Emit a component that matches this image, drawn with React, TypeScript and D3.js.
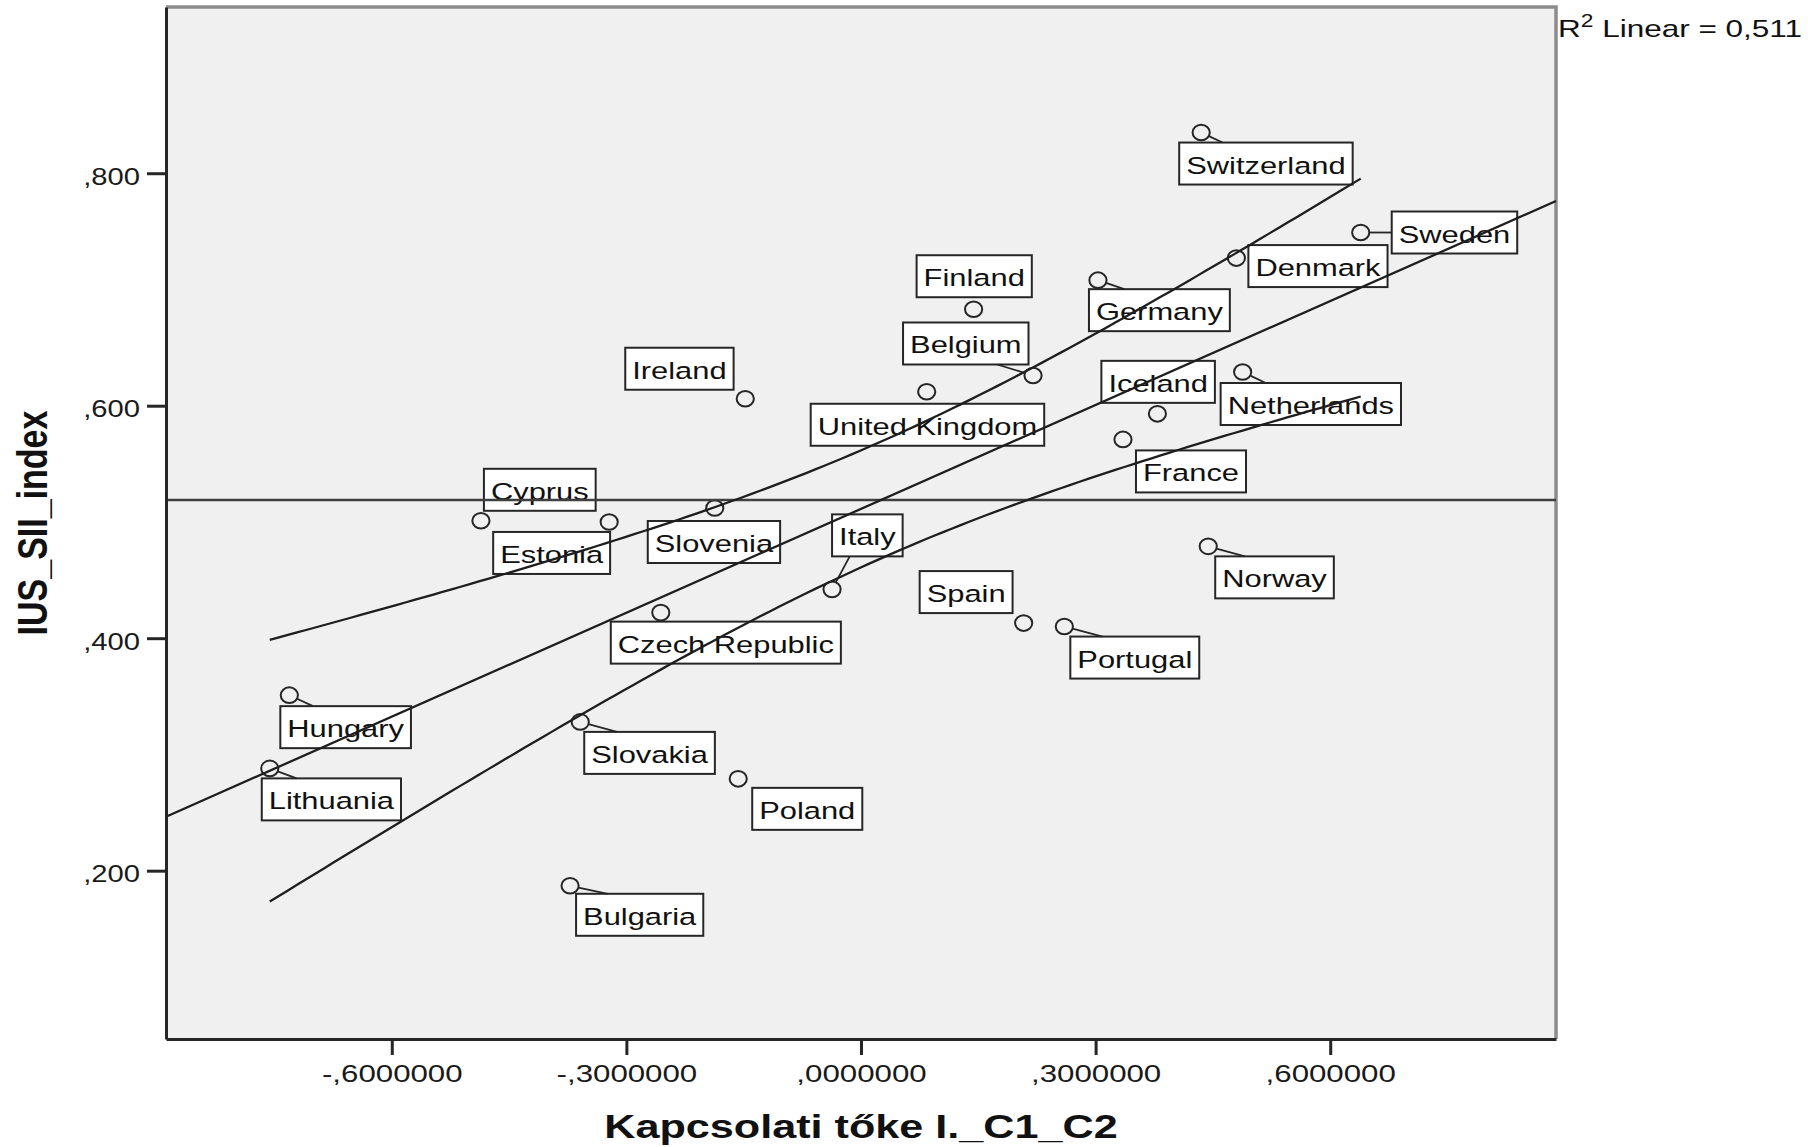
import { useEffect, useRef } from 'react'
import * as d3 from 'd3'

// Countries, in the order they are listed below
const COUNTRIES = [
  'Switzerland', 'Sweden', 'Denmark', 'Germany', 'Finland', 'Belgium',
  'Netherlands', 'Iceland', 'United Kingdom', 'Ireland', 'France', 'Slovenia',
  'Cyprus', 'Estonia', 'Italy', 'Czech Republic', 'Spain', 'Portugal',
  'Norway', 'Hungary', 'Lithuania', 'Slovakia', 'Poland', 'Bulgaria',
]

// Kapcsolati tőke I._C1_C2 (x)
const KAPCSOLATI = [
  0.435, 0.639, 0.480, 0.303, 0.144, 0.220,
  0.488, 0.379, 0.084, -0.148, 0.335, -0.187,
  -0.486, -0.322, -0.037, -0.256, 0.208, 0.260,
  0.444, -0.731, -0.756, -0.359, -0.157, -0.372,
]

// IUS_SII_index (y)
const IUS_SII = [
  0.835, 0.749, 0.727, 0.708, 0.683, 0.626,
  0.629, 0.593, 0.612, 0.606, 0.571, 0.512,
  0.501, 0.500, 0.442, 0.422, 0.413, 0.410,
  0.479, 0.351, 0.288, 0.328, 0.279, 0.187,
]

const X_TICKS = [-0.6, -0.3, 0, 0.3, 0.6]
const X_TICK_LABELS = ['-,6000000', '-,3000000', ',0000000', ',3000000', ',6000000']
const Y_TICKS = [0.2, 0.4, 0.6, 0.8]
const Y_TICK_LABELS = [',200', ',400', ',600', ',800']
const X_DOMAIN = [-0.8887, 0.8887]
const Y_DOMAIN = [0.0552, 0.943]
const R2_VALUE = '0,511'

// Label box placement relative to its point: [dx, dy, leader anchor]
// anchors: tl = top at 1/4, bl = bottom at 1/4, br = bottom at 3/4, l = left middle
const LABEL_PLACEMENT: [number, number, string][] = [
  [-22, 10, 'tl'], [31, -21, 'l'], [12, -13, ''], [-9, 9, 'tl'], [-57, -54, ''], [-130, -53, 'br'],
  [-22, 11, 'tl'], [-56, -53, ''], [-116, 12, ''], [-120, -51, ''], [13, 11, ''], [-67, 13, ''],
  [3, -52, ''], [-116, 10, ''], [0, -75, 'bl'], [-50, 9, ''], [-104, -52, ''], [6, 10, 'tl'],
  [7, 10, 'tl'], [-9, 11, 'tl'], [-8, 10, 'tl'], [4, 10, 'tl'], [14, 9, ''], [6, 8, 'tl'],
]

const T_975_DF22 = 2.074 // two-sided 95% t quantile for n - 2 = 22

const WIDTH = 1808
const HEIGHT = 1147
const FONT = '"Liberation Sans", Arial, sans-serif'
const S = 1.27 // the original picture is stretched horizontally
const INK = '#262626'

const App = () => {
  const svgRef = useRef<SVGSVGElement>(null)

  useEffect(() => {
    if (!svgRef.current) return
    const svg = d3.select(svgRef.current)
    svg.selectAll('*').remove()

    const left = 166, right = 1556, top = 7, bottom = 1039
    const x = d3.scaleLinear().domain(X_DOMAIN).range([left, right])
    const y = d3.scaleLinear().domain(Y_DOMAIN).range([bottom, top])

    // plot background + gray top/right frame
    svg.append('rect')
      .attr('x', left).attr('y', top)
      .attr('width', right - left).attr('height', bottom - top)
      .attr('fill', '#f0f0f0')
    svg.append('path')
      .attr('d', `M${left},${top}H${right}V${bottom}`)
      .attr('fill', 'none')
      .attr('stroke', '#8c8c8c')
      .attr('stroke-width', 3.5)

    // linear fit and 95% mean confidence band
    const n = KAPCSOLATI.length
    const xbar = d3.mean(KAPCSOLATI) as number
    const ybar = d3.mean(IUS_SII) as number
    let sxx = 0, sxy = 0, syy = 0
    KAPCSOLATI.forEach((xv, i) => {
      sxx += (xv - xbar) ** 2
      sxy += (xv - xbar) * (IUS_SII[i] - ybar)
      syy += (IUS_SII[i] - ybar) ** 2
    })
    const b1 = sxy / sxx
    const b0 = ybar - b1 * xbar
    const sse = syy - b1 * sxy
    const se = Math.sqrt(sse / (n - 2))
    const band = (xv: number, sign: number) =>
      b0 + b1 * xv + sign * T_975_DF22 * se * Math.sqrt(1 / n + (xv - xbar) ** 2 / sxx)

    // labels
    const PAD = 7, BOX_H = 42
    const labels = svg.append('g').attr('font-family', FONT).attr('font-size', 24.3)
    const marks = svg.append('g')
    COUNTRIES.forEach((name, i) => {
      const px = x(KAPCSOLATI[i])
      const py = y(IUS_SII[i])
      const [dx, dy, anchor] = LABEL_PLACEMENT[i]
      const bx = px + dx, by = py + dy
      const grp = labels.append('g')
      const rect = grp.append('rect')
      const text = grp.append('text')
        .attr('transform', `translate(${bx + PAD},${by + 31}) scale(${S},1)`)
        .attr('fill', '#111')
        .text(name)
      const w = (text.node() as SVGTextElement).getComputedTextLength() * S + 2 * PAD
      rect.attr('x', bx).attr('y', by)
        .attr('width', w).attr('height', BOX_H)
        .attr('fill', '#fff')
        .attr('stroke', INK)
        .attr('stroke-width', 2)

      if (anchor) {
        let ax = bx, ay = by
        if (anchor === 'tl') { ax = bx + w * 0.25; ay = by }
        if (anchor === 'bl') { ax = bx + w * 0.25; ay = by + BOX_H }
        if (anchor === 'br') { ax = bx + w * 0.75; ay = by + BOX_H }
        if (anchor === 'l') { ax = bx; ay = by + BOX_H / 2 }
        const len = Math.hypot(ax - px, ay - py)
        const r = 8.5
        marks.append('line')
          .attr('x1', px + (ax - px) / len * r)
          .attr('y1', py + (ay - py) / len * r)
          .attr('x2', ax).attr('y2', ay)
          .attr('stroke', INK)
          .attr('stroke-width', 1.8)
      }
      marks.append('ellipse')
        .attr('cx', px).attr('cy', py)
        .attr('rx', 8.6).attr('ry', 7.8)
        .attr('fill', 'none')
        .attr('stroke', INK)
        .attr('stroke-width', 2)
    })

    // lines are drawn over the labels
    const lines = svg.append('g').attr('fill', 'none')
    lines.append('line')
      .attr('x1', left).attr('x2', right)
      .attr('y1', y(ybar)).attr('y2', y(ybar))
      .attr('stroke', '#404040')
      .attr('stroke-width', 2.5)
    lines.append('line')
      .attr('x1', x(X_DOMAIN[0])).attr('y1', y(b0 + b1 * X_DOMAIN[0]))
      .attr('x2', x(X_DOMAIN[1])).attr('y2', y(b0 + b1 * X_DOMAIN[1]))
      .attr('stroke', '#1e1e1e')
      .attr('stroke-width', 2.3)

    const [xmin, xmax] = d3.extent(KAPCSOLATI) as [number, number]
    const samples = d3.range(0, 121).map(k => xmin + (xmax - xmin) * k / 120)
    ;[1, -1].forEach(sign => {
      const curve = d3.line<number>()
        .x(d => x(d))
        .y(d => y(band(d, sign)))
      lines.append('path')
        .attr('d', curve(samples) || '')
        .attr('stroke', '#1e1e1e')
        .attr('stroke-width', 2.3)
    })

    // axes
    const xAxis = svg.append('g')
      .attr('transform', `translate(0,${bottom})`)
      .call(
        d3.axisBottom(x)
          .tickValues(X_TICKS)
          .tickFormat((_, i) => X_TICK_LABELS[i])
          .tickSize(16)
          .tickSizeOuter(0)
      )
    const yAxis = svg.append('g')
      .attr('transform', `translate(${left},0)`)
      .call(
        d3.axisLeft(y)
          .tickValues(Y_TICKS)
          .tickFormat((_, i) => Y_TICK_LABELS[i])
          .tickSize(19)
          .tickSizeOuter(0)
      )
    ;[xAxis, yAxis].forEach(ax => {
      ax.attr('font-family', FONT)
      ax.select('.domain').attr('stroke', INK).attr('stroke-width', 3)
      ax.selectAll('.tick line').attr('stroke', INK).attr('stroke-width', 3)
      ax.selectAll('.tick text').attr('fill', '#1a1a1a').attr('x', null).attr('y', null).attr('dy', null)
    })
    xAxis.attr('font-size', 24.6)
    yAxis.attr('font-size', 23)
    xAxis.selectAll('.tick text')
      .attr('transform', `translate(0,${1082 - bottom}) scale(${S},1)`)
    yAxis.selectAll('.tick text')
      .attr('transform', `translate(${140 - left},11) scale(${S},1)`)

    // titles
    svg.append('text')
      .attr('transform', `translate(${(left + right) / 2},1138) scale(${S},1)`)
      .attr('text-anchor', 'middle')
      .attr('font-family', FONT)
      .attr('font-weight', 'bold')
      .attr('font-size', 34)
      .attr('fill', '#111')
      .text('Kapcsolati tőke I._C1_C2')
    svg.append('text')
      .attr('transform', `translate(47,${(top + bottom) / 2}) scale(${S},1) rotate(-90)`)
      .attr('text-anchor', 'middle')
      .attr('font-family', FONT)
      .attr('font-weight', 'bold')
      .attr('font-size', 34)
      .attr('fill', '#111')
      .text('IUS_SII_index')

    const r2 = svg.append('text')
      .attr('transform', `translate(1558,37) scale(${S},1)`)
      .attr('font-family', FONT)
      .attr('font-size', 24.8)
      .attr('fill', '#111')
    r2.append('tspan').text('R')
    r2.append('tspan').attr('font-size', 18).attr('dy', -10).text('2')
    r2.append('tspan').attr('dy', 10).text(` Linear = ${R2_VALUE}`)
  }, [])

  return (
    <div style={{ position: 'absolute', left: 0, top: 0, background: '#fff' }}>
      <svg ref={svgRef} width={WIDTH} height={HEIGHT} style={{ display: 'block' }}></svg>
    </div>
  )
}

export default App
